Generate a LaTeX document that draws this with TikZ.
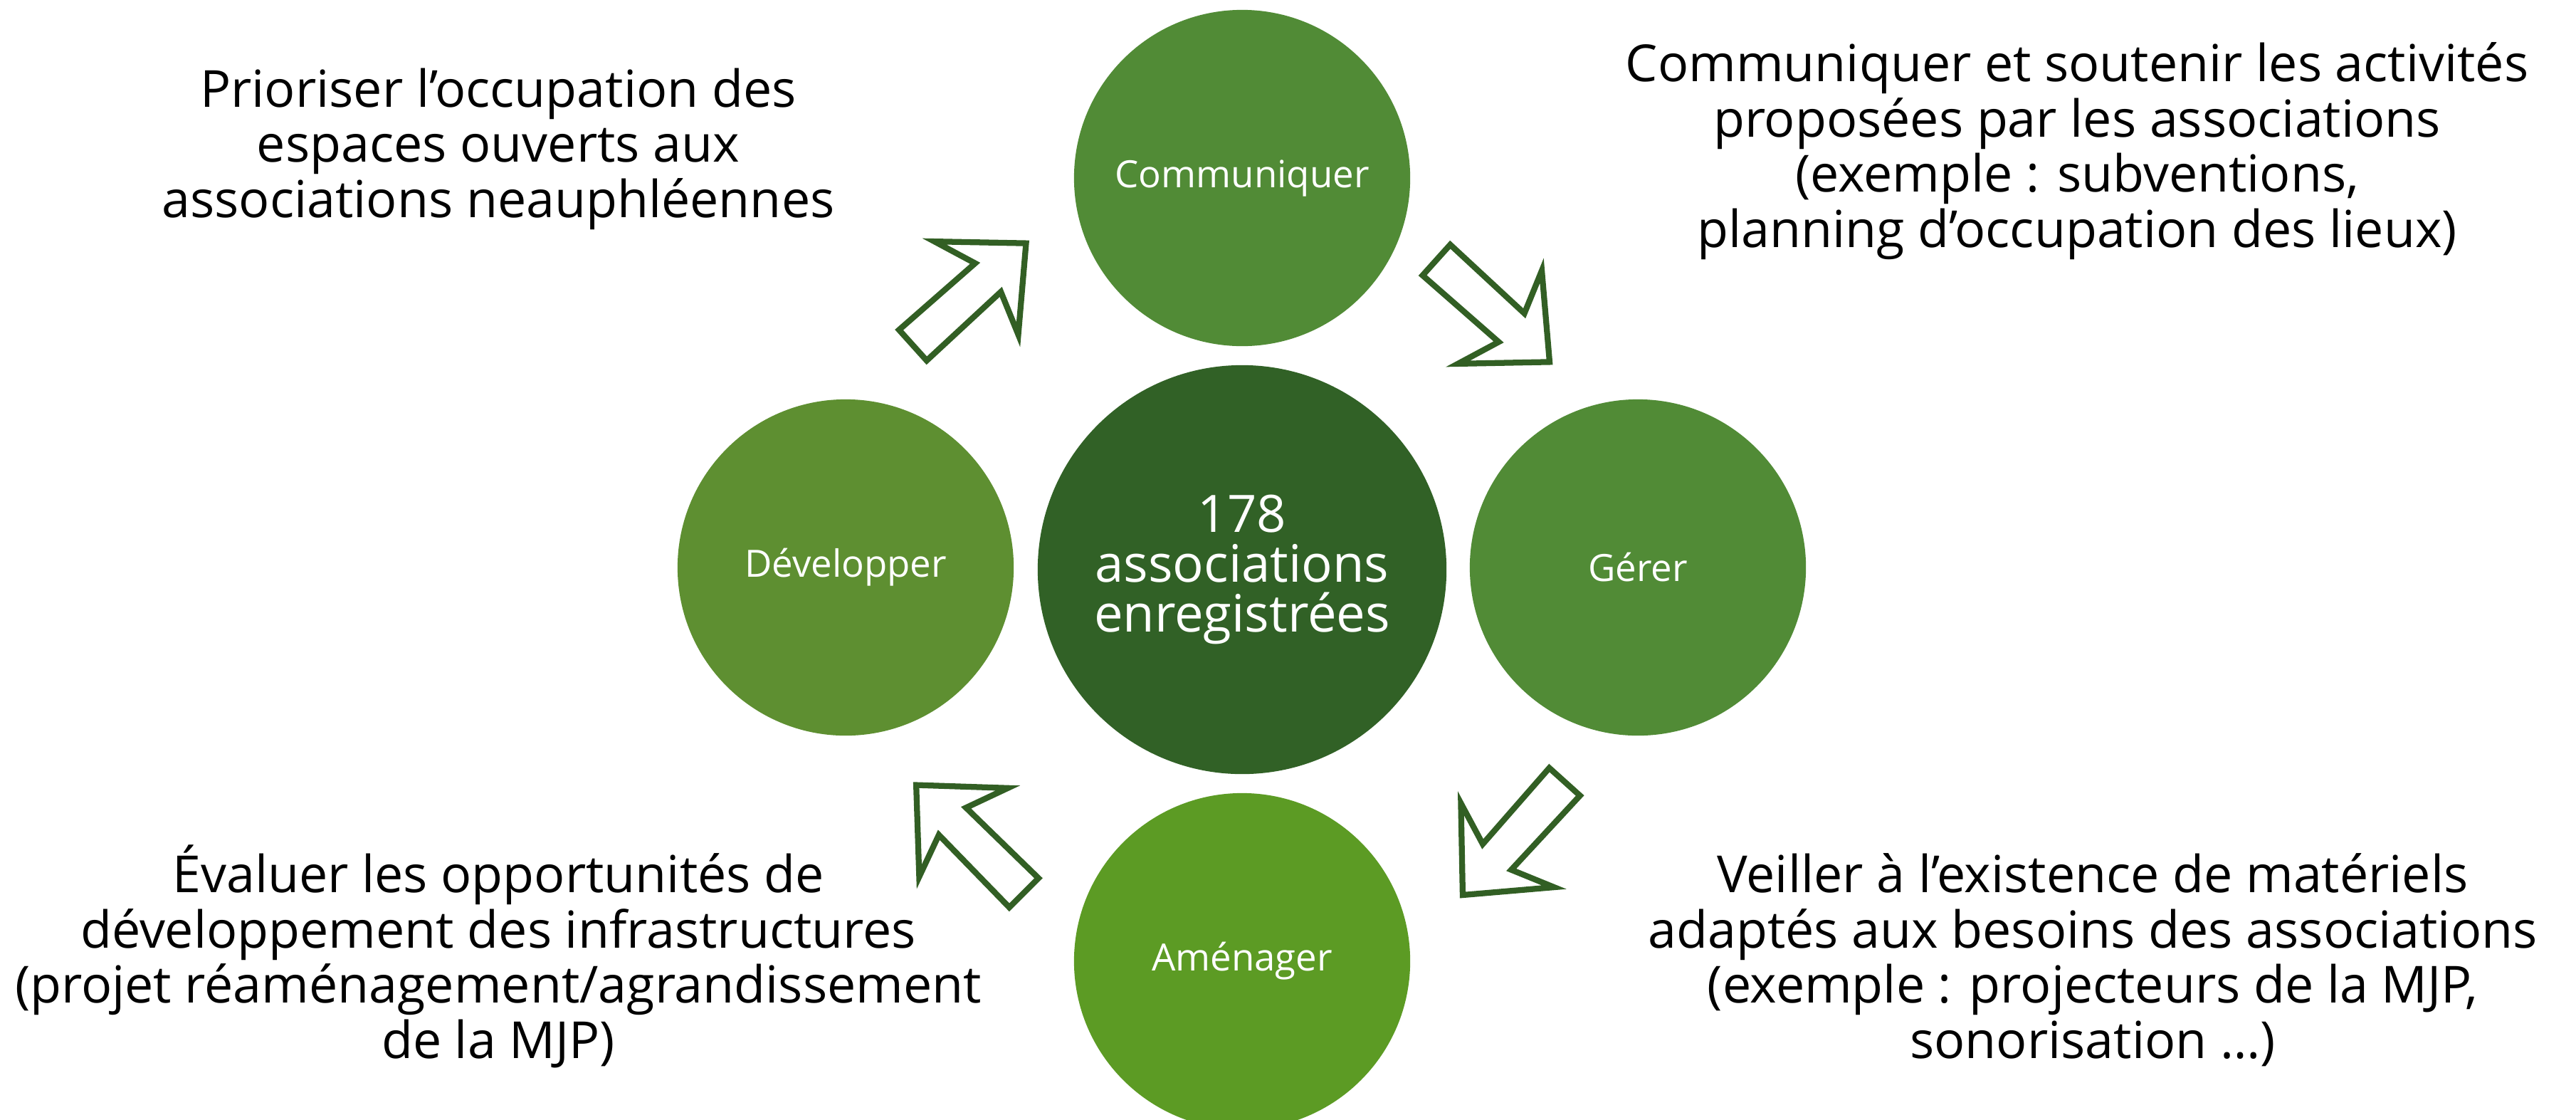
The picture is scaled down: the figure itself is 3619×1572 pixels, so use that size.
\documentclass[tikz,border=0pt]{standalone}
\usepackage{fontspec}
\setmainfont{Open Sans}
\usepackage{xcolor}

\definecolor{commgreen}{HTML}{518B36}
\definecolor{devgreen}{HTML}{5E8F31}
\definecolor{amgreen}{HTML}{5C9B24}
\definecolor{coregreen}{HTML}{316126}
\definecolor{arrowgreen}{HTML}{325F24}

\tikzset{
  stepdisc/.style={circle, fill=#1, minimum size=4.72cm, inner sep=0pt,
    text=white, font=\fontsize{15}{18}\selectfont},
  corearrow/.style={draw=arrowgreen, line width=2.35pt, fill=white, line join=miter},
  notetext/.style={align=center, anchor=base, inner sep=0pt,
    font=\fontsize{20.4}{22}\selectfont}
}
% block arrow: tail middle, direction
\newcommand{\blockarrow}[2]{
  \draw[corearrow, shift={#1}, rotate=#2]
    (4,29) -- (146,27) -- (124,88) -- (218,0) -- (124,-88) -- (146,-27) -- (4,-29) -- cycle;
}

\begin{document}
\begin{tikzpicture}[x=0.01cm, y=-0.01cm]
\useasboundingbox (0,0) rectangle (3619,1572);

% circles
\node[circle, fill=coregreen, minimum size=5.74cm, inner sep=0pt, text=white, align=center,
  font=\fontsize{20.6}{19.8}\selectfont] (core) at (1745,800) {178\\associations\\enregistrées};
\node[stepdisc=commgreen] (comm) at (1745,250) {Communiquer};
\node[stepdisc=commgreen] (gerer) at (2301,797) {Gérer};
\node[stepdisc=amgreen] (amen) at (1745,1350) {Aménager};
\node[stepdisc=devgreen] (dev) at (1188,797) {Développer};

% arrows
\blockarrow{(1279.5,487.5)}{42}
\blockarrow{(2015,362.5)}{-42}
\blockarrow{(2200.8,1095)}{-132}
\blockarrow{(1441.3,1256.7)}{135}

% texts (base = last line)
\node[notetext] (prio) at (700,305) {Prioriser l’occupation des\\espaces ouverts aux\\associations neauphléennes};
\node[notetext] (soutien) at (2918,347) {Communiquer et soutenir les activités\\proposées par les associations\\(exemple : subventions,\\planning d’occupation des lieux)};
\node[notetext] (infra) at (700,1486) {Évaluer les opportunités de\\développement des infrastructures\\(projet réaménagement/agrandissement\\de la MJP)};
\node[notetext] (materiel) at (2940,1486) {Veiller à l’existence de matériels\\adaptés aux besoins des associations\\(exemple : projecteurs de la MJP,\\sonorisation …)};
\end{tikzpicture}
\end{document}
